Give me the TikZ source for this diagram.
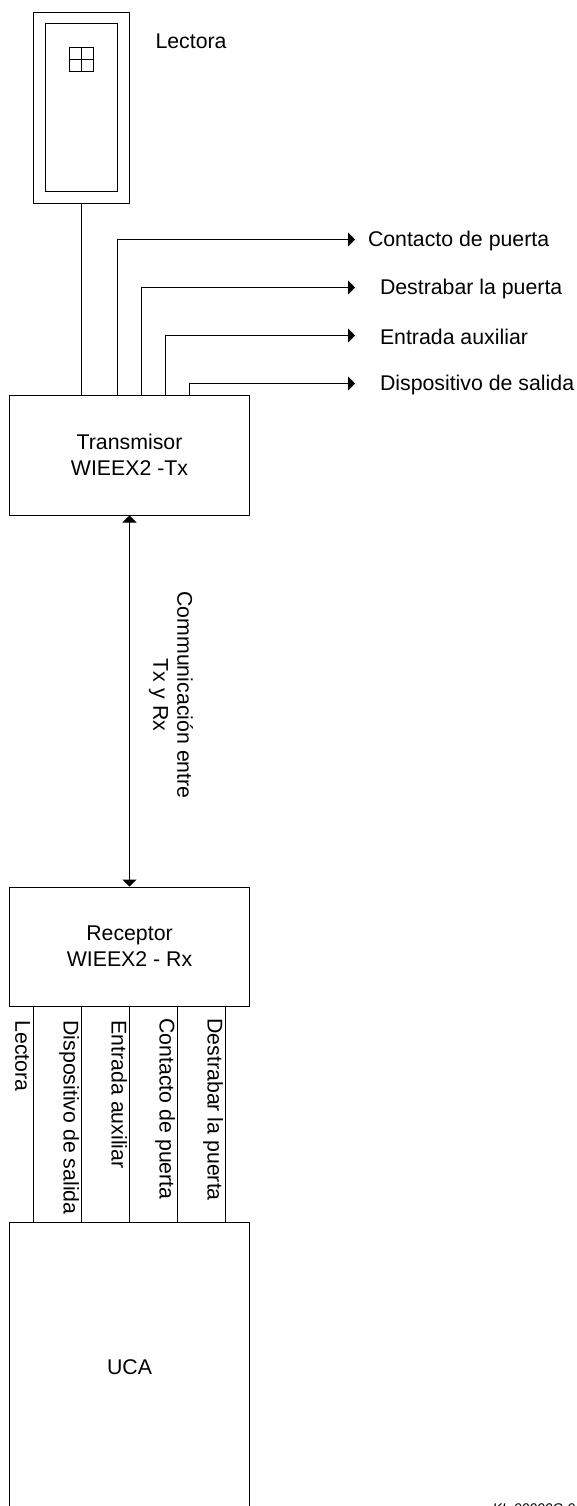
\documentclass[tikz,border=0pt]{standalone}
\usepackage{fontspec}
\setmainfont{Liberation Sans}
\usepackage{tikz}
\usetikzlibrary{arrows.meta}

\begin{document}
\begin{tikzpicture}[x=0.5pt, y=-0.5pt, >={Triangle[length=3.5pt,width=7pt]}, line width=0.5pt,
    box/.style={draw, inner sep=0pt, align=center, font=\fontsize{10.65}{13}\selectfont},
    wirelabel/.style={inner sep=0pt, anchor=west, font=\fontsize{10.65}{13}\selectfont},
    sidelabel/.style={wirelabel, rotate=-90, text height=7.7pt, text depth=2.2pt}]
    \useasboundingbox (0, 0) rectangle (577, 1506);
    \clip (0, 0) rectangle (577, 1506);

    % lectora
    \node[box, minimum width=48pt, minimum height=95.5pt] (reader) at (81.5, 107.5) {};
    \node[box, minimum width=36pt, minimum height=84pt] (readerin) at (81.5, 107.5) {};
    \node[box, minimum width=12pt, minimum height=12pt] (pad) at (81.5, 59.5) {};
    \draw (pad.north) -- (pad.south);
    \draw (pad.west) -- (pad.east);
    \node[wirelabel] (readertxt) at (155, 41) {Lectora};

    % transmisor y receptor
    \node[box, minimum width=120pt, minimum height=60pt] (tx) at (129.5, 455) {Transmisor\\WIEEX2 -Tx};
    \node[box, minimum width=120pt, minimum height=59.5pt] (rx) at (129.5, 946.5) {Receptor\\WIEEX2 - Rx};
    \node[box, minimum width=120pt, minimum height=145pt] (uca) at (129.5, 1367) {UCA};

    % lector al transmisor
    \draw (reader.south) -- (reader.south |- tx.north);

    % salidas del transmisor
    \node[wirelabel] (contacto) at (367.5, 240.5) {Contacto de puerta};
    \node[wirelabel] (destrabar) at (379.5, 288.5) {Destrabar la puerta};
    \node[wirelabel] (entrada) at (379.5, 336.5) {Entrada auxiliar};
    \node[wirelabel] (salida) at (379.5, 384.5) {Dispositivo de salida};
    \foreach \name/\wx/\wy in {contacto/117.5/239.5, destrabar/141.5/287.5, entrada/165.5/335.5, salida/189.5/383.5} {
        \coordinate (\name end) at (355, \wy);
        \coordinate (\name in) at (\wx, 0 |- tx.north);
        \draw[->] (\name in) |- (\name end);
    }

    % enlace entre Tx y Rx
    \draw[<->] (tx.south) -- (rx.north);
    \node[rotate=-90, inner sep=0pt, align=center, font=\fontsize{10.65}{13}\selectfont] (link) at (171, 695) {Communicación entre\\[-1pt]Tx y Rx};

    % cables del receptor a la UCA
    \foreach \wx/\wlw in {33.5/0.5pt, 81.5/0.5pt, 129.5/0.5pt, 177.5/0.75pt, 225.5/0.75pt} {
        \coordinate (top) at (\wx, 0 |- rx.south);
        \draw[line width=\wlw] (top) -- (top |- uca.north);
    }
    \node[sidelabel] (l1) at (21, 1020) {Lectora};
    \node[sidelabel] (l2) at (69, 1020) {Dispositivo de salida};
    \node[sidelabel] (l3) at (117, 1020) {Entrada auxiliar};
    \node[sidelabel] (l4) at (165, 1018) {Contacto de puerta};
    \node[sidelabel] (l5) at (213, 1018) {Destrabar la puerta};

    % referencia
    \node[inner sep=0pt, anchor=north west, font=\fontsize{7}{8}\itshape] (ref) at (492, 1503) {KL 00000C-0};
\end{tikzpicture}
\end{document}
